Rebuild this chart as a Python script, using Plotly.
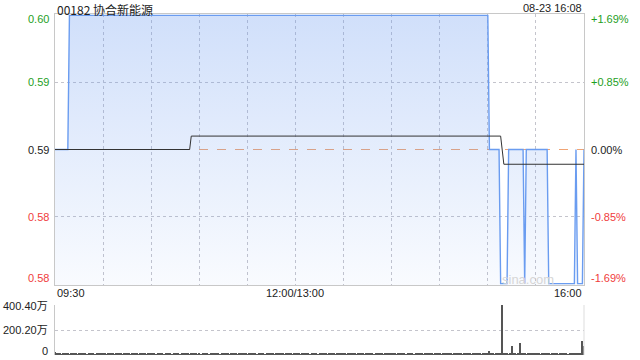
import plotly.graph_objects as go

# ---------------- data ----------------
stock_title = "00182 协合新能源"
timestamp = "08-23 16:08"
prev_close = 0.59
price_lo, price_hi = 0.58, 0.60

# minute index from 09:30 (0) .. 12:00/13:00 (150) .. 16:00 (330)
price_t = [0, 8, 9, 270, 271, 277, 278, 282, 283, 292, 293, 294, 307, 308, 324, 325, 326, 329, 330]
price_v = [0.59, 0.59, 0.60, 0.60, 0.59, 0.59, 0.58, 0.58, 0.59, 0.59, 0.58, 0.59, 0.59, 0.58,
           0.58, 0.59, 0.58, 0.58, 0.59]
avg_t = [0, 84, 85, 278, 280, 330]
avg_v = [0.59, 0.59, 0.591, 0.591, 0.5889, 0.5889]

price_ticks = [0.60, 0.595, 0.59, 0.585, 0.58]
price_labels = ["0.60", "0.59", "0.59", "0.58", "0.58"]
pct_labels = ["+1.69%", "+0.85%", "0.00%", "-0.85%", "-1.69%"]
grid_price = [0.585, 0.595]
grid_time = [30, 60, 90, 120, 150, 180, 210, 240, 270, 300]
time_ticks = [0, 150, 330]
time_labels = ["09:30", "12:00/13:00", "16:00"]
vol_ticks = [400.4, 200.2, 0]
vol_labels = ["400.40万", "200.20万", "0"]

# volume per minute, in 万
volume = (
    [25, 10, 9, 12, 8, 10, 9, 12, 10, 8, 9, 10, 12, 9, 8, 10, 9, 12, 10, 9, 8, 10, 12, 9, 10, 8, 9, 12, 10, 9]
    + [10, 9, 8, 12, 10, 9, 10, 8, 12, 9, 10, 9, 8, 10, 12, 9, 10, 8, 9, 12, 10, 9, 8, 10, 9, 12, 10, 8, 9, 10]
    + [9, 12, 10, 8, 9, 10, 9, 12, 8, 10, 9, 10, 12, 8, 9, 10, 12, 9, 8, 10, 9, 12, 10, 9, 8, 10, 9, 12, 10, 8]
    + [10, 8, 9, 12, 10, 9, 8, 10, 12, 9, 10, 9, 12, 8, 10, 9, 10, 12, 9, 8, 10, 9, 12, 10, 8, 9, 10, 12, 9, 10]
    + [8, 10, 9, 12, 9, 10, 8, 12, 10, 9, 10, 8, 9, 12, 10, 9, 12, 8, 10, 9, 9, 10, 12, 8, 10, 9, 12, 10, 8, 9]
    + [10, 9, 12, 8, 10, 9, 10, 12, 9, 8, 10, 12, 9, 10, 8, 9, 12, 10, 9, 10, 8, 12, 9, 10, 9, 8, 10, 12, 9, 10]
    + [9, 10, 8, 12, 10, 9, 12, 9, 8, 10, 10, 9, 12, 8, 9, 10, 9, 12, 10, 8, 9, 12, 10, 9, 10, 8, 12, 9, 10, 9]
    + [12, 9, 10, 8, 10, 9, 12, 10, 9, 8, 10, 12, 9, 10, 8, 9, 10, 12, 9, 10, 8, 12, 10, 9, 9, 10, 8, 12, 10, 9]
    + [10, 8, 9, 12, 10, 9, 10, 12, 8, 9, 12, 10, 9, 10, 8, 9, 12, 10, 9, 10, 8, 10, 12, 9, 10, 9, 8, 12, 10, 10]
    + [10, 32, 9, 10, 8, 12, 9, 10, 9, 400.4, 12, 9, 10, 8, 12, 75, 9, 10, 8, 9, 96, 10, 9, 12, 8, 10, 9, 12, 10, 9]
    + [10, 9, 12, 8, 10, 9, 10, 12, 9, 8, 10, 9, 12, 10, 8, 9, 10, 12, 9, 10, 8, 9, 20, 10, 9, 12, 10, 12, 9, 115]
    + [72]
)
vol_t = list(range(len(volume)))

# ---------------- style ----------------
GREEN = "#1ea01e"
RED = "#f03c3c"
BLACK = "#222222"
FRAME = "#c8c8c8"
GRID = "#c4c4cc"
FONT = "Liberation Sans, Arial, Noto Sans CJK SC"

XD = [55 / 640, 584 / 640]
Y_MAIN = [75 / 360, 346 / 360]
Y_VOL = [5 / 360, 55 / 360]
pad = 0.000105
yr = [price_lo - pad, price_hi + pad]


def col(v):
    if v > prev_close + 1e-9:
        return GREEN
    if v < prev_close - 1e-9:
        return RED
    return BLACK


fig = go.Figure()

# baseline for the gradient fill
fig.add_trace(go.Scatter(x=[time_ticks[0], time_ticks[-1]], y=[yr[0], yr[0]], mode="lines",
                         line=dict(width=0, color="rgba(0,0,0,0)"), hoverinfo="skip",
                         showlegend=False))
fig.add_trace(go.Scatter(x=price_t, y=price_v, mode="lines",
                         line=dict(color="#6a9cf0", width=1.4),
                         fill="tonexty",
                         fillgradient=dict(type="vertical",
                                           colorscale=[[0, "rgba(100,150,240,0.04)"],
                                                       [1, "rgba(100,150,240,0.30)"]],
                                           start=yr[0], stop=price_hi),
                         showlegend=False))
fig.add_trace(go.Scatter(x=avg_t, y=avg_v, mode="lines",
                         line=dict(color="#333333", width=1), showlegend=False))
fig.add_trace(go.Bar(x=vol_t, y=volume, xaxis="x2", yaxis="y2", width=0.55,
                     marker=dict(color="#555555", line=dict(width=0)), showlegend=False))

annotations = []
# title / timestamp
annotations.append(dict(text=stock_title, xref="paper", yref="paper", x=55 / 640, y=351 / 360,
                        xanchor="left", yanchor="middle", showarrow=False,
                        font=dict(family="Noto Sans CJK SC, Liberation Sans", size=12, color="#222")))
annotations.append(dict(text=timestamp, xref="paper", yref="paper", x=584 / 640, y=352 / 360,
                        xanchor="right", yanchor="middle", showarrow=False,
                        font=dict(family=FONT, size=11, color="#222")))
# price labels
n = len(price_ticks)
for i, (v, lab, pl) in enumerate(zip(price_ticks, price_labels, pct_labels)):
    ys = -4 if i == 0 else (6 if i == n - 1 else 0)
    annotations.append(dict(text=lab, xref="paper", yref="y", x=51 / 640, y=v, yshift=ys,
                            xanchor="right", yanchor="middle", showarrow=False,
                            font=dict(family=FONT, size=11, color=col(v))))
    annotations.append(dict(text=pl, xref="paper", yref="y", x=589 / 640, y=v, yshift=ys,
                            xanchor="left", yanchor="middle", showarrow=False,
                            font=dict(family=FONT, size=11, color=col(v))))
# time labels
for i, (t, lab) in enumerate(zip(time_ticks, time_labels)):
    xa = "left" if i == 0 else ("right" if i == len(time_ticks) - 1 else "center")
    annotations.append(dict(text=lab, xref="x", yref="paper", x=t, y=67 / 360,
                            xanchor=xa, yanchor="middle", showarrow=False,
                            font=dict(family=FONT, size=11, color="#222")))
# volume labels
for i, (v, lab) in enumerate(zip(vol_ticks, vol_labels)):
    ys = -1 if i == 0 else (4 if i == len(vol_ticks) - 1 else 0)
    annotations.append(dict(text=lab, xref="paper", yref="y2", x=50 / 640, y=v, yshift=ys,
                            xanchor="right", yanchor="middle", showarrow=False,
                            font=dict(family=FONT, size=11, color="#222")))
# watermark
annotations.append(dict(text="sina.com", xref="paper", yref="paper", x=528 / 640, y=81 / 360,
                        xanchor="center", yanchor="middle", showarrow=False,
                        font=dict(family=FONT, size=13, color="#d6d6d6")))

shapes = [
    dict(type="line", xref="x domain", yref="y", x0=0, x1=1, y0=prev_close, y1=prev_close,
         line=dict(color="#f0a474", width=1, dash="dash"), layer="below"),
    dict(type="line", xref="x2 domain", yref="y2 domain", x0=1, x1=1, y0=0, y1=1,
         line=dict(color="#dddddd", width=1)),
]

fig.update_layout(
    width=640, height=360, margin=dict(l=0, r=0, t=0, b=0),
    paper_bgcolor="white", plot_bgcolor="white",
    showlegend=False, bargap=0,
    annotations=annotations, shapes=shapes,
    xaxis=dict(domain=XD, anchor="y", range=[time_ticks[0], time_ticks[-1]],
               tickvals=grid_time, showticklabels=False, ticks="",
               showgrid=True, gridcolor=GRID, griddash="dot", gridwidth=1,
               showline=True, linecolor=FRAME, linewidth=1, mirror=True, zeroline=False),
    yaxis=dict(domain=Y_MAIN, anchor="x", range=yr,
               tickvals=grid_price, showticklabels=False, ticks="",
               showgrid=True, gridcolor=GRID, griddash="dot", gridwidth=1,
               showline=True, linecolor=FRAME, linewidth=1, mirror=True, zeroline=False),
    xaxis2=dict(domain=XD, anchor="y2", range=[time_ticks[0], time_ticks[-1]],
                showticklabels=False, ticks="", showgrid=False, showline=False, zeroline=False),
    yaxis2=dict(domain=Y_VOL, anchor="x2", range=[0, vol_ticks[0]],
                tickvals=vol_ticks[:2], showticklabels=False, ticks="",
                showgrid=True, gridcolor=GRID, griddash="dot", gridwidth=1,
                showline=True, linecolor=FRAME, linewidth=1, zeroline=False),
)

fig.write_html("out.html")
